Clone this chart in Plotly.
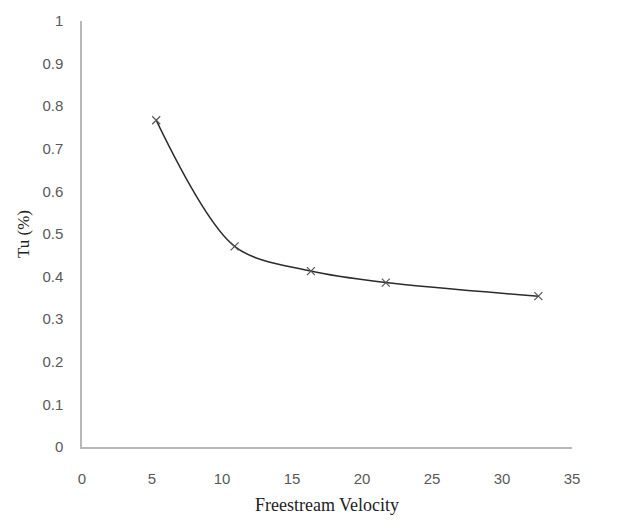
import plotly.graph_objects as go

velocity = [5.3, 10.9, 16.35, 21.7, 32.6]
tu = [0.767, 0.471, 0.413, 0.386, 0.354]
x_ticks = [0, 5, 10, 15, 20, 25, 30, 35]
y_ticks = [0, 0.1, 0.2, 0.3, 0.4, 0.5, 0.6, 0.7, 0.8, 0.9, 1]
y_tick_text = ["0", "0.1", "0.2", "0.3", "0.4", "0.5", "0.6", "0.7", "0.8", "0.9", "1"]

fig = go.Figure()
fig.add_trace(go.Scatter(
    x=velocity, y=tu, mode="lines+markers",
    line=dict(color="#2b2b2b", width=1.6, shape="spline", smoothing=0.9),
    marker=dict(symbol="x-thin", size=8, line=dict(color="#555555", width=1.2)),
    showlegend=False,
))

fig.update_layout(
    width=627, height=524,
    margin=dict(l=82, r=55, t=19, b=76),
    paper_bgcolor="white", plot_bgcolor="white",
    font=dict(family="Liberation Sans, Arial", size=15, color="#595959"),
    xaxis=dict(
        range=[0, 35], tickvals=x_ticks, showgrid=False, zeroline=False,
        showline=True, linecolor="#b8b8b8", linewidth=1.5,
        ticks="outside", ticklen=17, tickcolor="white",
        tickfont=dict(size=15, color="#595959"),
        title=dict(text="Freestream Velocity", standoff=13,
                   font=dict(family="Liberation Serif, Times New Roman", size=18, color="#222222")),
    ),
    yaxis=dict(
        range=[0, 1], tickvals=y_ticks, ticktext=y_tick_text, showgrid=False, zeroline=False,
        showline=True, linecolor="#b8b8b8", linewidth=1.5,
        ticks="outside", ticklen=14, tickcolor="white",
        tickfont=dict(size=15, color="#595959"),
        title=dict(text="Tu (%)", standoff=8,
                   font=dict(family="Liberation Serif, Times New Roman", size=17, color="#222222")),
    ),
)

fig.write_html("out.html")
